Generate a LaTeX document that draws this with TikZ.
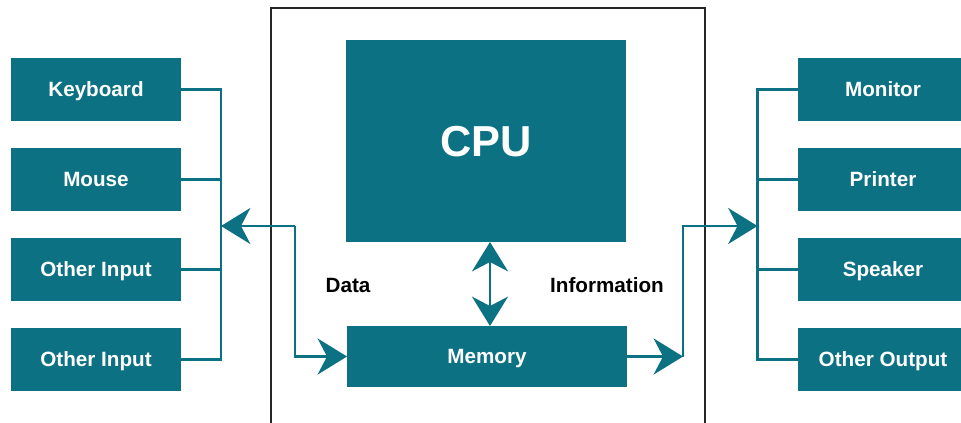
\documentclass[tikz,border=0pt]{standalone}
\usepackage{fontspec}
\setmainfont{Liberation Sans}
\usetikzlibrary{arrows.meta}
\definecolor{tealbox}{HTML}{0D7184}
\tikzset{
  box/.style={
    rectangle,
    fill=tealbox,
    text=white,
    font=\bfseries\fontsize{15.5}{18}\selectfont,
    text height=11pt,
    text depth=0.5pt,
    minimum width=127.5pt,
    minimum height=47.25pt,
    inner sep=0pt,
    outer sep=0pt
  },
  wire/.style={draw=tealbox, line width=2.2pt},
  tip/.style={-{Stealth[length=22pt,width=27pt,inset=7pt]}},
  label/.style={font=\bfseries\fontsize{15.5}{18}\selectfont, text=black}
}

\begin{document}
\begin{tikzpicture}[x=0.75pt,y=-0.75pt]
    \useasboundingbox (0,0) rectangle (961,422);
    % computer outline
    \draw[line width=1.1pt, draw=black!85] (271,430) -- (271,8) -- (705,8) -- (705,430);

    % inside
    \node[box,minimum width=210pt,minimum height=151.5pt,text height=24pt,
          font=\bfseries\fontsize{32.5}{38}\selectfont] (cpu) at (486,141) {CPU};
    \node[box,minimum width=210pt,minimum height=45.75pt] (mem) at (487,356.5) {Memory};
    \node[label] (data) at (348,285) {Data};
    \node[label] (info) at (607,285) {Information};

    % input devices
    \node[box] (kb) at (96,89.5) {Keyboard};
    \node[box] (mouse) at (96,179.5) {Mouse};
    \node[box] (inA) at (96,269.5) {Other Input};
    \node[box] (inB) at (96,359.5) {Other Input};

    % output devices
    \node[box] (mon) at (883,89.5) {Monitor};
    \node[box] (prn) at (883,179.5) {Printer};
    \node[box] (spk) at (883,269.5) {Speaker};
    \node[box] (out) at (883,359.5) {Other Output};

    % buses
    \coordinate (lbus) at (221,359.5);
    \coordinate (rbus) at (757.5,359.5);
    \coordinate (lin) at (221,226);
    \coordinate (lturn) at (295,226);
    \coordinate (rturn) at (683,356.5);
    \coordinate (rin) at (757.5,226);
    \coordinate (dbl) at (490,300);

    \draw[wire] (kb.east) -| (lbus) -- (inB.east);
    \draw[wire] (mouse.east) -- (mouse.east -| lbus);
    \draw[wire] (inA.east) -- (inA.east -| lbus);

    \draw[wire] (mon.west) -| (rbus) -- (out.west);
    \draw[wire] (prn.west) -- (prn.west -| rbus);
    \draw[wire] (spk.west) -- (spk.west -| rbus);

    % data flow
    \draw[wire,tip] (lturn) -- (lin);
    \draw[wire,tip] (lturn) |- (mem.west);
    \draw[wire,tip] (dbl) -- (dbl |- cpu.south);
    \draw[wire,tip] (dbl) -- (dbl |- mem.north);
    \draw[wire,tip] (mem.east) -- (rturn);
    \draw[wire,tip] (rturn) |- (rin);
\end{tikzpicture}
\end{document}
